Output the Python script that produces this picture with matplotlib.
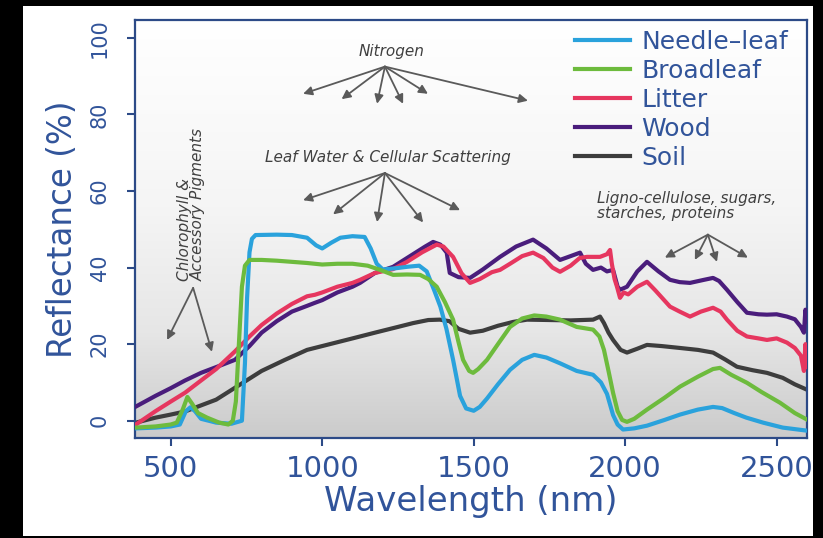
import matplotlib.pyplot as plt
import numpy as np
from matplotlib.colors import LinearSegmentedColormap
from matplotlib.patches import Rectangle

# --- data (wavelength nm, reflectance %) ---
needle_wl = [385, 450, 500, 530, 550, 565, 580, 600, 650, 700, 735, 745, 752, 760, 768, 780, 850, 900, 950,
             980, 1000, 1030, 1060, 1100, 1140, 1160, 1180, 1200, 1240, 1280, 1320, 1345, 1370, 1390, 1410,
             1432, 1455, 1475, 1500, 1520, 1544, 1580, 1620, 1660, 1700, 1740, 1785, 1840, 1894, 1920, 1940,
             1960, 1975, 1993, 2030, 2072, 2130, 2181, 2240, 2290, 2320, 2360, 2400, 2455, 2520, 2600]
needle_r = [-2.0, -1.8, -1.5, -1.0, 2.5, 3.5, 2.5, 0.5, -0.5, -0.8, 0, 15, 32, 44, 47.5, 48.5, 48.6, 48.5, 47.8,
            45.8, 45.0, 46.5, 47.8, 48.2, 48.0, 45, 41, 39.5, 39.8, 40.2, 40.5, 39, 34, 29.8, 24,
            15.9, 6.5, 3.2, 2.6, 3.6, 5.8, 9.5, 13.3, 15.9, 17.2, 16.5, 15.0, 13.0, 12.0, 10, 7,
            1.5, -1.0, -2.3, -2.0, -1.3, 0.2, 1.6, 2.9, 3.6, 3.3, 2.0, 0.8, -0.5, -1.8, -2.6]

broad_wl = [385, 450, 500, 520, 540, 555, 570, 590, 620, 660, 690, 705, 715, 725, 735, 745, 760, 800, 850,
            900, 950, 1000, 1050, 1100, 1150, 1191, 1234, 1280, 1323, 1350, 1378, 1405, 1432, 1450, 1465,
            1485, 1498, 1515, 1544, 1580, 1620, 1660, 1700, 1740, 1785, 1840, 1894, 1915, 1930, 1945, 1960,
            1975, 1990, 2006, 2030, 2072, 2130, 2181, 2240, 2290, 2313, 2350, 2402, 2450, 2511, 2560, 2600]
broad_r = [-1.8, -1.5, -1.0, -0.5, 3, 6.2, 4.5, 2.0, 0.8, -0.5, -1.0, 0, 5, 20, 35, 40.5, 42, 42, 41.8,
           41.5, 41.2, 40.8, 41, 41, 40.5, 39.4, 38.1, 38.2, 38.1, 37, 35, 31, 26.4, 20.5, 15.9,
           13, 12.5, 13.5, 15.9, 20, 24.5, 26.7, 27.5, 27.2, 26.4, 24.5, 23.8, 22, 18.5, 13, 7.3,
           2.5, 0.2, -0.3, 0.5, 2.9, 6, 8.9, 11.5, 13.5, 13.8, 12, 9.9, 7.5, 4.7, 2, 0.3]

litter_wl = [385, 450, 500, 547, 600, 650, 712, 760, 800, 850, 900, 950, 976, 1000, 1050, 1100, 1125, 1174,
             1234, 1280, 1330, 1378, 1400, 1432, 1460, 1488, 1520, 1560, 1587, 1620, 1660, 1696, 1730, 1760,
             1785, 1820, 1850, 1874, 1917, 1940, 1950, 1956, 1965, 1973, 1983, 1995, 2010, 2040, 2072, 2100,
             2148, 2180, 2214, 2250, 2290, 2315, 2336, 2370, 2402, 2440, 2468, 2500, 2534, 2560, 2580, 2590,
             2595, 2600]
litter_r = [-1.0, 2.5, 5.0, 7.3, 10.5, 13.5, 18.1, 22, 25, 28, 30.5, 32.5, 32.9, 33.5, 35, 36, 36.8, 38.6,
            39.6, 41.5, 44, 46, 45.5, 42.8, 38.5, 36, 37, 38.8, 39.4, 41, 43, 43.9, 42.5, 40,
            38.9, 40.5, 42.5, 42.8, 42.8, 43.5, 44.6, 41, 37, 35, 32.1, 33.5, 33, 35, 36.3, 34,
            29.8, 28.5, 27.2, 28.5, 29.5, 28.5, 26.4, 23.5, 22, 21.5, 21.1, 21.5, 20.4, 19, 17, 13,
            20, 14]

wood_wl = [385, 450, 500, 547, 600, 650, 712, 760, 800, 850, 900, 950, 976, 1000, 1050, 1100, 1125, 1174,
           1234, 1300, 1340, 1366, 1390, 1411, 1421, 1450, 1488, 1530, 1587, 1640, 1696, 1740, 1785, 1820,
           1851, 1870, 1894, 1920, 1940, 1960, 1975, 1983, 2006, 2040, 2072, 2110, 2148, 2180, 2214, 2260,
           2290, 2310, 2336, 2370, 2402, 2440, 2468, 2500, 2534, 2560, 2580, 2590, 2595, 2600]
wood_r = [3.7, 6.5, 8.5, 10.5, 12.5, 14, 15.9, 19.5, 23, 26, 28.5, 30, 30.8, 31.5, 33.5, 35, 36, 38.6,
          40.2, 43.5, 45.5, 46.7, 46, 43.9, 38.6, 37.5, 37.3, 39.5, 42.8, 45.5, 47.3, 45, 42, 43,
          43.9, 41, 39.4, 40, 39, 39.4, 35, 34.2, 35, 39, 41.5, 39, 36.8, 36.2, 36, 36.8,
          37.3, 36.5, 34.2, 31, 28.2, 27.8, 27.7, 27.8, 27.2, 26.5, 24.5, 23, 29, 26]

soil_wl = [385, 450, 500, 547, 600, 650, 702, 750, 800, 877, 950, 1000, 1050, 1100, 1174, 1250, 1300, 1350,
           1388, 1420, 1450, 1488, 1530, 1580, 1630, 1676, 1750, 1820, 1894, 1917, 1930, 1945, 1960, 1985,
           2006, 2040, 2072, 2120, 2181, 2240, 2290, 2330, 2369, 2420, 2468, 2520, 2560, 2600]
soil_r = [-0.5, 0.8, 1.6, 2.4, 4, 5.5, 8.1, 10.5, 13, 15.9, 18.5, 19.5, 20.5, 21.5, 23, 24.5, 25.5, 26.3,
          26.4, 26, 24, 23, 23.5, 24.8, 25.8, 26.4, 26.3, 26.2, 26.4, 27.2, 25.5, 23, 21.1, 18.5,
          17.8, 18.8, 19.8, 19.5, 19, 18.5, 17.8, 16, 14.1, 13.2, 12.5, 11.2, 9.5, 8.1]

x_ticks = [500, 1000, 1500, 2000, 2500]
y_ticks = [0, 20, 40, 60, 80, 100]

navy = '#2c4a87'
label_blue = '#31549a'
note_gray = '#404040'
arrow_gray = '#5a5a5a'

fig = plt.figure(figsize=(8.23, 5.38), dpi=100, facecolor='black')
fig.patches.append(Rectangle((0.028, 0.004), 0.96, 0.985, transform=fig.transFigure,
                             facecolor='white', edgecolor='none', zorder=-5))

ax = fig.add_axes([0.164, 0.186, 0.8165, 0.777])

# grey gradient background, white at the top
cmap = LinearSegmentedColormap.from_list('bg', [(0, '#ffffff'), (0.45, '#f5f5f5'),
                                                (0.75, '#e6e6e6'), (1, '#cbcbcb')])
grad = np.linspace(0, 1, 256).reshape(-1, 1)
ax.imshow(grad, extent=[0, 1, 0, 1], transform=ax.transAxes, cmap=cmap, aspect='auto', zorder=0)

lw = 3.0
ax.plot(soil_wl, soil_r, color='#3d3d3d', lw=lw, label='Soil', zorder=2)
ax.plot(wood_wl, wood_r, color='#4a1d7c', lw=lw, label='Wood', zorder=3)
ax.plot(litter_wl, litter_r, color='#e6365f', lw=lw, label='Litter', zorder=4)
ax.plot(needle_wl, needle_r, color='#2aa2dc', lw=lw, label='Needle\u2013leaf', zorder=5)
ax.plot(broad_wl, broad_r, color='#6dbb3d', lw=lw, label='Broadleaf', zorder=6)

ax.set_xlim(382, 2600)
ax.set_ylim(-4.5, 104.7)
ax.set_xticks(x_ticks)
ax.set_yticks(y_ticks)

for s in ax.spines.values():
    s.set_color(navy)
    s.set_linewidth(1.6)
ax.tick_params(colors=navy, width=1.5, length=6, direction='out')
ax.tick_params(axis='x', labelsize=21, labelcolor=label_blue, pad=6)
ax.tick_params(axis='y', labelsize=15, labelcolor=label_blue, pad=12, labelrotation=90)
for t in ax.get_yticklabels():
    t.set_va('center')

ax.set_xlabel('Wavelength (nm)', fontsize=24.5, color=label_blue, labelpad=2)
ax.set_ylabel('Reflectance (%)', fontsize=23.5, color=label_blue, labelpad=8)

handles, labels = ax.get_legend_handles_labels()
order = [3, 4, 2, 1, 0]
ax.legend([handles[i] for i in order], [labels[i] for i in order], loc='upper right',
          bbox_to_anchor=(1.005, 1.03), frameon=False, fontsize=18, labelcolor=label_blue,
          handlelength=2.2, handletextpad=0.45, labelspacing=0.2)

# annotations
arrow_kw = dict(arrowstyle='-|>', color=arrow_gray, lw=1.3, mutation_scale=13, shrinkA=0, shrinkB=0)
note_kw = dict(fontsize=11, style='italic', color=note_gray)

ax.text(1229, 96.4, 'Nitrogen', ha='center', va='center', **note_kw)
for tx, ty in [(937, 85.4), (1064, 84.0), (1181, 82.8), (1267, 82.8), (1349, 85.4), (1679, 83.6)]:
    ax.annotate('', xy=(tx, ty), xytext=(1207, 92.5), arrowprops=arrow_kw)

ax.text(1217, 68.7, 'Leaf Water & Cellular Scattering', ha='center', va='center', **note_kw)
for tx, ty in [(937, 57.6), (1036, 53.9), (1181, 51.9), (1333, 51.8), (1455, 55.0)]:
    ax.annotate('', xy=(tx, ty), xytext=(1207, 64.7), arrowprops=arrow_kw)

ax.text(1907, 56.1, 'Ligno-cellulose, sugars,\nstarches, proteins', ha='left', va='center',
        linespacing=0.95, **note_kw)
for tx, ty in [(2131, 42.6), (2230, 42.0), (2303, 41.5), (2405, 42.6)]:
    ax.annotate('', xy=(tx, ty), xytext=(2273, 48.6), arrowprops=arrow_kw)

ax.text(568, 56.4, 'Chlorophyll &\nAccessory Pigments', rotation=90, ha='center', va='center',
        multialignment='left', linespacing=0.95, **note_kw)
for tx, ty in [(488, 21.1), (636, 18.0)]:
    ax.annotate('', xy=(tx, ty), xytext=(574, 34.7), arrowprops=arrow_kw)

fig.savefig('out.png', dpi=100, facecolor=fig.get_facecolor())
